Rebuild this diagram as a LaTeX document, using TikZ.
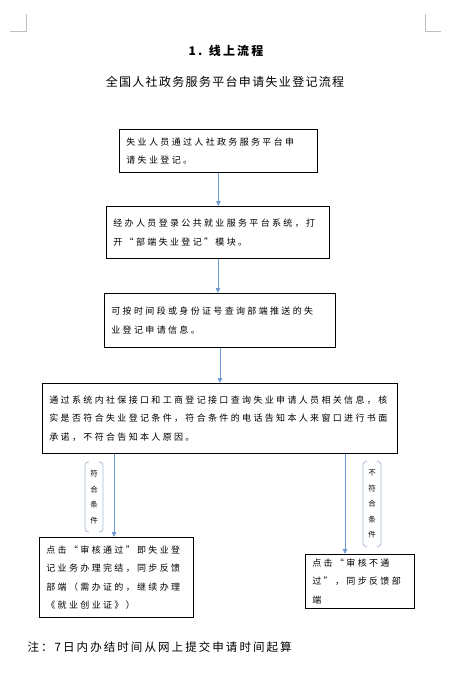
\documentclass[tikz,border=0pt]{standalone}
\usepackage{fontspec}
\setmainfont{Noto Sans CJK SC}
\newfontfamily\cjkbox[LetterSpace=26]{Noto Sans CJK SC}
\newfontfamily\cjktitle[LetterSpace=18]{Noto Sans CJK SC}
\newfontfamily\cjksub[LetterSpace=11]{Noto Sans CJK SC}
\newfontfamily\cjknote[LetterSpace=18]{Noto Sans CJK SC}
\newfontfamily\cjkplain{Noto Sans CJK SC}
\usetikzlibrary{arrows.meta, positioning, calc}
\definecolor{fblue}{HTML}{6E9BCF}
\definecolor{fbrack}{HTML}{A9BCD3}
\definecolor{fgray}{HTML}{BFBFBF}

\begin{document}
\begin{tikzpicture}[x=1pt, y=-1pt,
  procbox/.style={draw=black, line width=0.8pt, anchor=north west, align=left,
    inner xsep=7pt, inner ysep=0pt, font=\cjkbox\fontsize{9}{18.5}\selectfont},
  flow/.style={draw=fblue, line width=0.8pt, -{Triangle[length=5pt, width=4.5pt]}},
  condlabel/.style={font=\cjkplain\fontsize{7.5}{15.5}\selectfont, align=center,
    inner xsep=5pt, inner ysep=8pt},
  bracket/.style={draw=fbrack, line width=0.8pt, rounded corners=3pt}]

  \useasboundingbox (0,0) rectangle (465,693);

  %% Page corner marks
  \draw[fgray, line width=0.6pt] (10,31) -- (26,31) -- (26,14);
  \draw[fgray, line width=0.6pt] (425,14) -- (425,31) -- (441,31);

  %% Headings
  \node[font=\cjktitle\bfseries\fontsize{12}{14}\selectfont] (title) at (226,51) {1. 线上流程};
  \node[font=\cjksub\fontsize{12}{14}\selectfont] (subtitle) at (225,82)
    {全国人社政务服务平台申请失业登记流程};

  %% Steps
  \node[procbox, text width=184pt, minimum height=43pt] (box1) at (119,129)
    {失业人员通过人社政务服务平台申\\请失业登记。};
  \node[procbox, text width=209pt, minimum height=52pt] (box2) at (106,206)
    {经办人员登录公共就业服务平台系统，打\\开“部端失业登记”模块。};
  \node[procbox, text width=217pt, minimum height=54pt] (box3) at (104,293)
    {可按时间段或身份证号查询部端推送的失\\业登记申请信息。};
  \node[procbox, text width=341pt, minimum height=70pt] (box4) at (42,383)
    {通过系统内社保接口和工商登记接口查询失业申请人员相关信息，核\\
     实是否符合失业登记条件，符合条件的电话告知本人来窗口进行书面\\
     承诺，不符合告知本人原因。};
  \node[procbox, text width=140pt, minimum height=80pt] (box5) at (39,537)
    {点击“审核通过”即失业登\\记业务办理完结，同步反馈\\部端（需办证的，继续办理\\《就业创业证》）};
  \node[procbox, text width=95pt, minimum height=54pt] (box6) at (305,554)
    {点击“审核不通\\过”，同步反馈部\\端};

  %% Conditions
  \node[condlabel] (okcond) at (94,497) {符\\合\\条\\件};
  \node[condlabel] (nocond) at (372,504) {不\\符\\合\\条\\件};
  \foreach \c in {okcond, nocond}{
    \draw[bracket] ([xshift=4pt]\c.north west) -- (\c.north west)
      -- (\c.south west) -- ([xshift=4pt]\c.south west);
    \draw[bracket] ([xshift=-4pt]\c.north east) -- (\c.north east)
      -- (\c.south east) -- ([xshift=-4pt]\c.south east);
  }

  %% Connectors
  \coordinate (oktop) at ([xshift=75pt]box5.north west);
  \coordinate (notop) at ([xshift=40pt]box6.north west);
  \draw[flow] (box1.south) -- (box1.south |- box2.north);
  \draw[flow] (box2.south) -- (box2.south |- box3.north);
  \draw[flow] (box3.south) -- (box3.south |- box4.north);
  \draw[flow] (box4.south -| oktop) -- (oktop);
  \draw[flow] (box4.south -| notop) -- (notop);

  %% Note
  \node[anchor=west, font=\cjknote\fontsize{11.5}{13}\selectfont] (note) at (24,647)
    {注：7日内办结时间从网上提交申请时间起算};

\end{tikzpicture}
\end{document}
